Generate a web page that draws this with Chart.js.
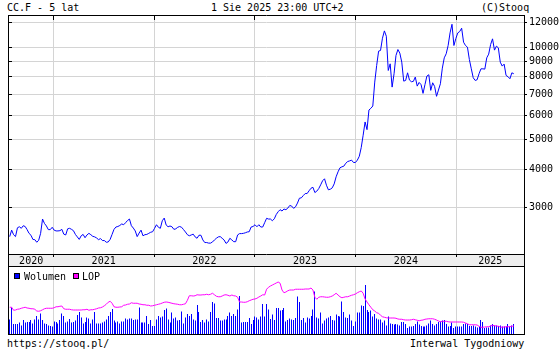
<!DOCTYPE html>
<html>
<head>
<meta charset="utf-8">
<script src="https://cdn.jsdelivr.net/npm/chart.js@4"></script>
<style>
body { margin: 0; background: #fff; }
#wykres { position: relative; width: 560px; height: 350px; font: 10px 'DejaVu Sans Mono', monospace; color: #000; }
.napis { position: absolute; line-height: 10px; white-space: pre; }
canvas { position: absolute; left: 0; }
</style>
</head>
<body>
<div id="wykres">
  <div class="napis" style="left:7px;top:3px">CC.F - 5 lat</div>
  <div class="napis" style="left:211px;top:3px">1 Sie 2025 23:00 UTC+2</div>
  <div class="napis" style="left:481px;top:3px">(C)Stooq</div>
  <canvas id="cena" width="560" height="266" style="top:0"></canvas>
  <canvas id="obrot" width="560" height="70" style="top:266px"></canvas>
  <div class="napis" style="left:7px;top:339px">https://stooq.pl/</div>
  <div class="napis" style="left:410px;top:339px">Interwal Tygodniowy</div>
</div>
<script>
// notowania tygodniowe CC.F (kakao), od 27.07.2020
let notowania = [
  2410,2530,2445,2410,2575,2595,2565,2615,2600,2540,
  2470,2435,2360,2355,2310,2345,2470,2750,2660,2610,
  2540,2540,2585,2530,2515,2515,2520,2545,2455,2440,
  2555,2565,2545,2520,2450,2405,2360,2425,2450,2390,
  2440,2470,2445,2415,2405,2385,2355,2375,2340,2340,
  2310,2315,2360,2450,2545,2590,2600,2620,2650,2635,
  2675,2720,2750,2615,2570,2515,2410,2475,2530,2425,
  2445,2450,2470,2490,2500,2565,2635,2585,2565,2715,
  2770,2630,2595,2610,2595,2545,2555,2585,2600,2585,
  2540,2495,2445,2425,2440,2455,2405,2380,2435,
  2435,2350,2305,2305,2295,2295,2315,2350,2380,2405,
  2410,2380,2350,2290,2315,2380,2350,2320,2320,2440,
  2465,2465,2470,2480,2495,2500,2590,2600,2635,2595,
  2635,2590,2590,2675,2765,2750,2750,2715,2755,2845,
  2905,2950,2920,2965,2950,2985,3045,3030,2980,3015,
  3100,3215,3225,3280,3330,3330,3400,3465,3490,3355,
  3390,3455,3555,3665,3720,3545,3425,3440,3475,3580,
  3775,3920,4040,4070,4090,4180,4235,4255,4280,4205,
  4205,4280,4405,
  4700,5160,5700,5380,6235,6315,6425,7690,8710,9700,
  9750,10690,11295,10850,8390,8820,7405,8185,9390,9820,
  9555,8930,7745,7785,8245,7805,7710,7730,7985,7460,
  7670,7540,7065,7540,8045,8125,7225,7650,7445,6910,
  7245,7595,8540,9225,9510,10120,11125,11870,10120,10665,
  11125,11240,11525,10375,10120,9995,9110,8495,7945,7785,
  7825,8185,8495,8495,8475,9225,9485,10195,10640,9775,
  10070,9945,8930,8670,8800,8085,8005,7885,8245,8185
]

// wolumen i LOP w tys.
let wolumen = [
  29,53,20,20,20,23,17,28,23,24,24,28,21,29,36,29,41,28,21,20,
  17,16,15,25,24,21,28,41,36,23,25,30,23,24,27,38,44,33,21,24,
  33,31,21,29,44,21,21,21,23,25,29,36,44,50,27,23,25,21,25,25,
  31,29,31,31,28,29,
  29,53,23,23,23,36,20,28,16,16,29,36,33,35,48,51,29,23,43,31,
  33,27,28,45,21,33,40,36,40,29,27,58,44,24,28,23,29,25,44,64,
  61,32,32,27,27,29,29,36,43,36,40,36,49,76,23,24,24,24,32,20,
  28,35,33,29,35,60,35,
  60,49,30,39,28,52,52,47,48,52,25,28,31,29,28,32,75,64,28,32,
  23,33,31,36,49,85,33,31,43,21,27,31,33,36,28,27,39,36,35,65,
  44,33,32,39,27,16,25,43,43,57,56,98,48,44,47,35,40,31,29,29,
  23,27,17,35,21,20,19,
  20,19,17,24,24,20,12,15,15,16,20,25,19,16,15,15,17,21,27,20,
  17,20,24,25,27,28,20,15,16,23,12,15,15,15,15,20,21,20,16,16,
  17,15,13,15,28,24,12,13,13,17,20,17,17,16,17,15,15,15,20,15,
  17,20
]

let lop = [
  107,107,95,96,99,100,103,105,107,104,103,101,101,99,92,91,93,97,101,103,
  103,103,103,105,109,109,111,112,101,99,99,99,97,96,96,96,96,96,97,97,
  99,95,97,97,99,101,104,105,108,113,119,127,131,123,109,107,107,108,109,115,
  116,119,120,125,123,123,
  123,120,119,117,117,115,115,112,113,115,117,119,121,124,127,128,127,125,123,121,
  120,119,117,117,119,121,135,153,153,152,153,157,156,156,157,157,159,157,159,163,
  157,151,149,149,152,156,157,155,152,156,153,152,147,128,128,127,127,129,133,136,
  139,140,143,148,152,157,156,
  179,187,192,196,200,204,208,203,176,165,168,173,176,176,176,179,179,179,179,179,
  180,180,180,184,176,147,139,147,149,149,148,147,147,149,152,157,163,156,149,145,
  147,149,149,152,155,157,160,165,169,172,163,140,128,117,107,97,92,85,83,75,
  69,67,65,64,64,64,64,
  63,60,59,59,57,56,56,56,57,59,57,55,53,55,56,59,60,61,61,61,
  59,56,52,49,51,51,51,49,48,48,48,48,48,48,48,47,44,41,37,37,
  37,37,36,31,27,27,28,29,29,32,35,33,32,31,28,27,28,29,29,29,
  31,32
]

let lata = [2020, 2021, 2022, 2023, 2024, 2025]
let poziomy = [3000, 4000, 5000, 6000, 7000, 8000, 9000, 10000, 12000]

let pierwszyTydzien = Date.UTC(2020, 6, 27)
let tydzien = 7 * 24 * 3600 * 1000
let daty = notowania.map((v, i) => pierwszyTydzien + i * tydzien)

let xMin = Date.UTC(2020, 6, 24, 10)
let xMax = Date.UTC(2025, 8, 3)
let granice = lata.slice(1).map(r => Date.UTC(r, 0, 1))

let siatka = '#d4d4d4'
let czcionka = { family: "'DejaVu Sans Mono', monospace", size: 10 }

function wyrownaj(p) {
    return Math.round(p - 0.5) + 0.5
}

let ramkaCeny = {
    id: 'ramkaCeny',
    beforeDraw(chart) {
        let ctx = chart.ctx
        ctx.save()
        ctx.fillStyle = '#eeeeee'
        ctx.fillRect(9, 255, 515, 11)
        ctx.restore()
    },
    afterDraw(chart) {
        let ctx = chart.ctx
        let sx = chart.scales.x
        let sy = chart.scales.y
        ctx.save()
        ctx.strokeStyle = '#000'
        ctx.lineWidth = 1
        ctx.beginPath()
        ctx.moveTo(8.5, 15); ctx.lineTo(8.5, 266)
        ctx.moveTo(524.5, 15); ctx.lineTo(524.5, 266)
        ctx.moveTo(8, 15.5); ctx.lineTo(525, 15.5)
        ctx.moveTo(8, 254.5); ctx.lineTo(525, 254.5)
        granice.forEach(g => {
            let px = wyrownaj(sx.getPixelForValue(g))
            ctx.moveTo(px, 16); ctx.lineTo(px, 20)
        })
        poziomy.forEach(v => {
            let py = wyrownaj(sy.getPixelForValue(v))
            ctx.moveTo(9, py); ctx.lineTo(12, py)
        })
        ctx.stroke()

        ctx.fillStyle = '#000'
        ctx.font = "10px 'DejaVu Sans Mono', monospace"
        ctx.textAlign = 'center'
        let krawedzie = [xMin, ...granice, xMax]
        lata.forEach((rok, i) => {
            let l = Math.max(sx.getPixelForValue(krawedzie[i]), 8)
            let p = Math.min(sx.getPixelForValue(krawedzie[i + 1]), 524)
            ctx.fillText(String(rok), (l + p) / 2, 264)
        })
        ctx.restore()
    }
}

let ramkaObrotu = {
    id: 'ramkaObrotu',
    beforeDatasetsDraw(chart) {
        // słupki wolumenu równo w pikselach
        chart.getDatasetMeta(1).data.forEach(el => {
            el.x = Math.round(el.x - 0.5) + 0.5
        })
    },
    afterDraw(chart) {
        let ctx = chart.ctx
        ctx.save()
        ctx.strokeStyle = '#000'
        ctx.lineWidth = 1
        ctx.strokeRect(8.5, 0.5, 516, 68)

        ctx.fillStyle = '#0000ff'
        ctx.fillRect(14, 7, 6, 6)
        ctx.strokeRect(14.5, 7.5, 5, 5)
        ctx.fillStyle = '#ff00ff'
        ctx.fillRect(73, 7, 6, 6)
        ctx.strokeRect(73.5, 7.5, 5, 5)

        ctx.fillStyle = '#000'
        ctx.font = "10px 'DejaVu Sans Mono', monospace"
        ctx.fillText('Wolumen', 24, 14)
        ctx.fillText('LOP', 82, 14)
        ctx.restore()
    }
}

new Chart(document.getElementById('cena'), {
    type: 'line',
    data: {
        datasets: [{
            data: daty.map((d, i) => ({ x: d, y: notowania[i] })),
            borderColor: '#0000ff',
            borderWidth: 1,
            pointRadius: 0,
            tension: 0,
            fill: false
        }]
    },
    options: {
        responsive: false,
        animation: false,
        devicePixelRatio: 1,
        layout: { padding: { left: 9, top: 16, right: 0, bottom: 0 } },
        plugins: { legend: { display: false }, tooltip: { enabled: false } },
        scales: {
            x: {
                type: 'linear',
                bounds: 'data',
                min: xMin,
                max: xMax,
                afterBuildTicks: s => { s.ticks = granice.map(v => ({ value: v })) },
                afterFit: s => { s.height = 12 },
                ticks: { display: false },
                grid: { color: siatka, tickColor: '#000', tickLength: 3 },
                border: { display: false }
            },
            y: {
                type: 'logarithmic',
                position: 'right',
                bounds: 'data',
                min: 2115,
                max: 12630,
                afterBuildTicks: s => { s.ticks = poziomy.map(v => ({ value: v })) },
                afterFit: s => { s.width = 36 },
                ticks: { color: '#000', font: czcionka, padding: 2, autoSkip: false, callback: v => String(v) },
                grid: { color: siatka, tickColor: '#000', tickLength: 3 },
                border: { display: false }
            }
        }
    },
    plugins: [ramkaCeny]
})

new Chart(document.getElementById('obrot'), {
    type: 'bar',
    data: {
        datasets: [{
            type: 'line',
            data: daty.map((d, i) => ({ x: d, y: lop[i] })),
            yAxisID: 'yl',
            borderColor: '#ff00ff',
            borderWidth: 1,
            pointRadius: 0,
            tension: 0,
            order: 0
        }, {
            type: 'bar',
            data: daty.map((d, i) => ({ x: d, y: wolumen[i] })),
            yAxisID: 'yv',
            backgroundColor: '#0000ff',
            barThickness: 1,
            inflateAmount: 0,
            order: 1
        }]
    },
    options: {
        responsive: false,
        animation: false,
        devicePixelRatio: 1,
        layout: { padding: { left: 9, right: 36, top: 1, bottom: 2 } },
        plugins: { legend: { display: false }, tooltip: { enabled: false } },
        scales: {
            x: {
                type: 'linear',
                bounds: 'data',
                offset: false,
                min: xMin,
                max: xMax,
                afterBuildTicks: s => { s.ticks = granice.map(v => ({ value: v })) },
                afterFit: s => { s.height = 0 },
                ticks: { display: false },
                grid: { color: siatka, drawTicks: false, offset: false },
                border: { display: false }
            },
            yv: { display: false, min: 0, max: 134 },
            yl: { display: false, min: 0, max: 268 }
        }
    },
    plugins: [ramkaObrotu]
})
</script>
</body>
</html>
